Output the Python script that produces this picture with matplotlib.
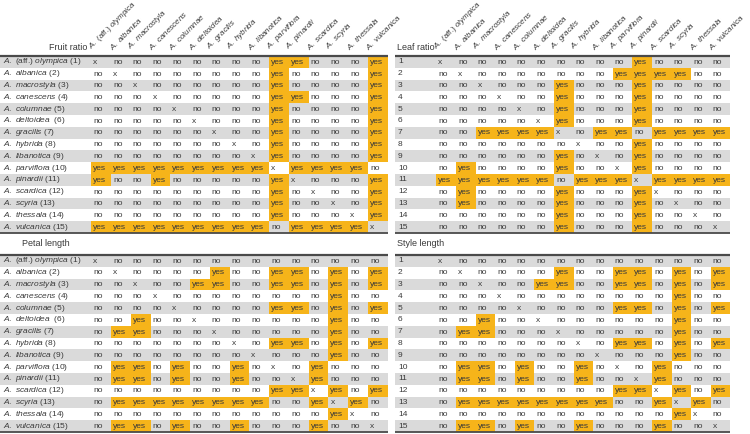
import matplotlib
matplotlib.use('Agg')
import matplotlib.pyplot as plt
from matplotlib.patches import Rectangle

plt.rcParams['font.family'] = ['Liberation Sans', 'DejaVu Sans']
plt.rcParams['mathtext.fontset'] = 'custom'
plt.rcParams['mathtext.rm'] = 'Liberation Sans'
plt.rcParams['mathtext.it'] = 'Liberation Sans:italic'

# species names, in table order
species = ['olympica', 'albanica', 'macrostyla', 'canescens', 'columnae',
           'deltoidea', 'gracilis', 'hybrida', 'libanotica', 'parviflora',
           'pinardii', 'scardica', 'scyria', 'thessala', 'vulcanica']

# y = yes, n = no, x = diagonal
fruit_ratio = [
    'xnnnnnnnnyynnny',
    'nxnnnnnnnynnnny',
    'nnxnnnnnnynnnny',
    'nnnxnnnnnyynnny',
    'nnnnxnnnnynnnny',
    'nnnnnxnnnynnnny',
    'nnnnnnxnnynnnny',
    'nnnnnnnxnynnnny',
    'nnnnnnnnxynnnny',
    'yyyyyyyyyxyyyyn',
    'ynnynnnnnyxnnny',
    'nnnnnnnnnynxnny',
    'nnnnnnnnnynnxny',
    'nnnnnnnnnynnnxy',
    'yyyyyyyyynyyyyx',
]

leaf_ratio = [
    'xnnnnnnnnnynnnn',
    'nxnnnnnnnyyyynn',
    'nnxnnnynnnynnnn',
    'nnnxnnynnnynnnn',
    'nnnnxnynnnynnnn',
    'nnnnnxynnnynnnn',
    'nnyyyyxnyynyyyy',
    'nnnnnnnxnnynnnn',
    'nnnnnnynxnynnnn',
    'nynnnnynnxynnnn',
    'yyyyyynyyyxyyyy',
    'nynnnnynnnyxnnn',
    'nynnnnynnnynxnn',
    'nnnnnnynnnynnxn',
    'nnnnnnynnnynnnx',
]

petal_length = [
    'xnnnnnnnnnnnnnn',
    'nxnnnnynnyynyny',
    'nnxnnyynnyynyny',
    'nnnxnnnnnnnnynn',
    'nnnnxnnnnyynyny',
    'nnynnxnnnnnnynn',
    'nyynnnxnnnnnynn',
    'nnnnnnnxnyynyny',
    'nnnnnnnnxnnnynn',
    'nyynynnynxnynnn',
    'nyynynnynnxynnn',
    'nnnnnnnnnyyxyny',
    'nyyyyyyyynnyxyn',
    'nnnnnnnnnnnnyxn',
    'nyynynnynnnynnx',
]

style_length = [
    'xnnnnnnnnnnnnnn',
    'nxnnnnynnyynyny',
    'nnxnnyynnyynyny',
    'nnnxnnnnnnnnynn',
    'nnnnxnnnnyynyny',
    'nnynnxnnnnnnynn',
    'nyynnnxnnnnnynn',
    'nnnnnnnxnyynyny',
    'nnnnnnnnxnnnynn',
    'nyynynnynxnynnn',
    'nyynynnynnxynnn',
    'nnnnnnnnnyyxyny',
    'nyyyyyyyynnyxyn',
    'nnnnnnnnnnnnyxn',
    'nyynynnynnnynnx',
]

words = {'y': 'yes', 'n': 'no', 'x': 'x'}

ORANGE = '#f6b41a'
GRAY = '#dadada'
TXT = '#3a3a3a'
FS = 6
ROW_H = 11.8


def name_label(i, with_num):
    if i == 0:
        s = r'$\mathit{A.}$ (aff.) $\mathit{olympica}$'
    else:
        s = r'$\mathit{A.\ %s}$' % species[i]
    if with_num:
        s += ('  (%d)' if i == 5 else ' (%d)') % (i + 1)
    return s


def draw_table(ax, data, x0, x1, cell_x0, cell_w, top, title, title_xy,
               title_ha, long_labels, header):
    n = len(data)
    for r in range(n):
        y = top + r * ROW_H
        if r % 2 == 0:
            ax.add_patch(Rectangle((x0, y), x1 - x0, ROW_H, fc=GRAY, ec='none', zorder=1))
        label = name_label(r, True) if long_labels else str(r + 1)
        ax.text(x0 + 3, y + ROW_H / 2, label, fontsize=FS, color=TXT,
                ha='left', va='center', zorder=4)
        for c, v in enumerate(data[r]):
            cx = cell_x0 + c * cell_w
            if v == 'y':
                ax.add_patch(Rectangle((cx, y), cell_w, ROW_H, fc=ORANGE, ec='none', zorder=2))
            ax.text(cx + 2, y + ROW_H / 2 + 0.3, words[v], fontsize=FS, color=TXT,
                    ha='left', va='center', zorder=4)
    ax.plot([x0, x1], [top, top], color='#4a4a4a', lw=1.6, zorder=5, solid_capstyle='butt')
    bottom = top + n * ROW_H
    ax.plot([x0, x1], [bottom, bottom], color='#4a4a4a', lw=1.3, zorder=5, solid_capstyle='butt')
    ax.text(title_xy[0], title_xy[1], title, fontsize=FS + 0.5, color=TXT,
            ha=title_ha, va='center', zorder=4)
    if header:
        for c in range(n):
            cx = cell_x0 + c * cell_w
            ax.text(cx + 2.5, top - 4, name_label(c, False), fontsize=5.8, color=TXT,
                    rotation=45, rotation_mode='anchor', ha='left', va='bottom', zorder=4)


fig = plt.figure(figsize=(7.5, 4.34), dpi=100)
ax = fig.add_axes([0, 0, 1, 1])
ax.set_xlim(0, 750)
ax.set_ylim(434, 0)
ax.axis('off')

draw_table(ax, fruit_ratio, 0, 388, 91.3, 19.76, 56, 'Fruit ratio', (87, 47), 'right', True, True)
draw_table(ax, leaf_ratio, 395, 730, 436.3, 19.6, 56, 'Leaf ratio', (397, 47), 'left', False, True)
draw_table(ax, petal_length, 0, 388, 91.3, 19.76, 255, 'Petal length', (22, 243), 'left', True, False)
draw_table(ax, style_length, 395, 730, 436.3, 19.6, 255, 'Style length', (397, 244), 'left', False, False)

fig.savefig('out.png', dpi=100)
